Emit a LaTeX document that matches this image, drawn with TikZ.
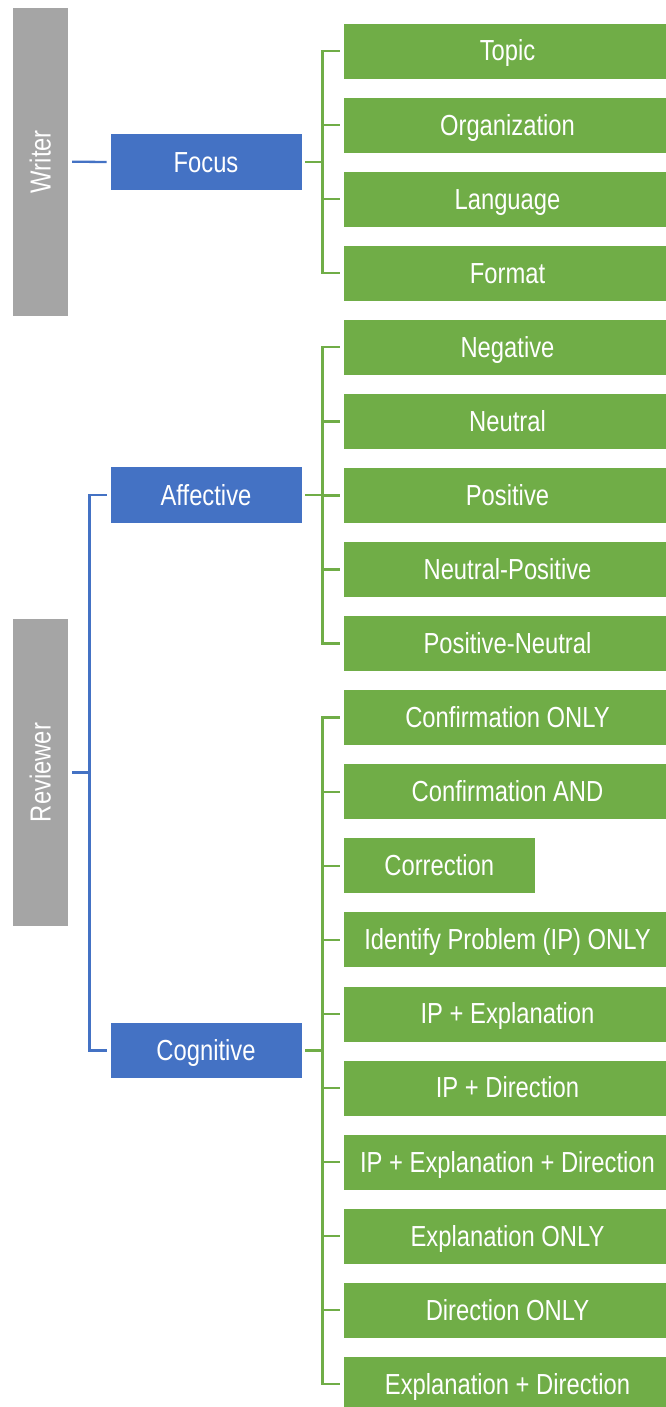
\documentclass[tikz,border=0pt]{standalone}
\usepackage{fontspec}
\setmainfont[FakeStretch=0.82]{Liberation Sans}
\definecolor{cgray}{HTML}{A5A5A5}
\definecolor{cblue}{HTML}{4472C4}
\definecolor{cgreen}{HTML}{70AD47}
\tikzset{
  basebox/.style={rectangle, draw=white, line width=0.8pt, inner sep=0pt, text=white,
    font=\fontsize{29}{32}\selectfont, text height=20pt, text depth=0pt},
  graybox/.style={basebox, fill=cgray, minimum width=56.7pt, minimum height=308.7pt,
    text height=, text depth=},
  bluebox/.style={basebox, fill=cblue, minimum width=192pt, minimum height=56.5pt},
  greenbox/.style={basebox, fill=cgreen, minimum width=328pt, minimum height=56pt},
  shortbox/.style={basebox, fill=cgreen, minimum width=191.5pt, minimum height=56pt},
  blueline/.style={draw=cblue, line width=2.3pt},
  greenline/.style={draw=cgreen, line width=2.3pt},
}
\begin{document}
\begin{tikzpicture}[x=1pt,y=-1pt]
\useasboundingbox (0,0) rectangle (666,1407);
% left column
\node[graybox] (writer) at (40.3,161.7) {\rotatebox{90}{Writer}};
\node[graybox] (rev) at (40.3,772.5) {\rotatebox{90}{Reviewer}};
% middle column
\node[bluebox] (focus) at (206,162) {Focus};
\node[bluebox] (aff) at (206,495) {Affective};
\node[bluebox] (cog) at (206,1050.5) {Cognitive};
% right column
\def\gy#1{51+74.07*#1}
\node[greenbox] (g0) at (507.5,{\gy{0}}) {Topic};
\node[greenbox] (g1) at (507.5,{\gy{1}}) {Organization};
\node[greenbox] (g2) at (507.5,{\gy{2}}) {Language};
\node[greenbox] (g3) at (507.5,{\gy{3}}) {Format};
\node[greenbox] (g4) at (507.5,{\gy{4}}) {Negative};
\node[greenbox] (g5) at (507.5,{\gy{5}}) {Neutral};
\node[greenbox] (g6) at (507.5,{\gy{6}}) {Positive};
\node[greenbox] (g7) at (507.5,{\gy{7}}) {Neutral-Positive};
\node[greenbox] (g8) at (507.5,{\gy{8}}) {Positive-Neutral};
\node[greenbox] (g9) at (507.5,{\gy{9}}) {Confirmation ONLY};
\node[greenbox] (g10) at (507.5,{\gy{10}}) {Confirmation AND};
\node[shortbox] (g11) at (439.25,{\gy{11}}) {Correction};
\node[greenbox] (g12) at (507.5,{\gy{12}}) {Identify Problem (IP) ONLY};
\node[greenbox] (g13) at (507.5,{\gy{13}}) {IP + Explanation};
\node[greenbox] (g14) at (507.5,{\gy{14}}) {IP + Direction};
\node[greenbox] (g15) at (507.5,{\gy{15}}) {IP + Explanation + Direction};
\node[greenbox] (g16) at (507.5,{\gy{16}}) {Explanation ONLY};
\node[greenbox] (g17) at (507.5,{\gy{17}}) {Direction ONLY};
\node[greenbox] (g18) at (507.5,{\gy{18}}) {Explanation + Direction};
% blue connectors
\draw[blueline] ([xshift=3pt]writer.east) -- ([xshift=-3pt]focus.west);
\draw[blueline] ([xshift=3pt]rev.east) -- ++(17.5,0) coordinate (rj);
\draw[blueline] ([xshift=-3pt]aff.west) -| (rj) |- ([xshift=-3pt]cog.west);
% green connectors
\foreach \c in {g0,g1,g2,g3}
  \draw[greenline] ([xshift=3pt]focus.east) -- ++(17,0) |- ([xshift=-3pt]\c.west);
\foreach \c in {g4,g5,g6,g7,g8}
  \draw[greenline] ([xshift=3pt]aff.east) -- ++(17,0) |- ([xshift=-3pt]\c.west);
\foreach \c in {g9,g10,g11,g12,g13,g14,g15,g16,g17,g18}
  \draw[greenline] ([xshift=3pt]cog.east) -- ++(17,0) |- ([xshift=-3pt]\c.west);
\end{tikzpicture}
\end{document}
